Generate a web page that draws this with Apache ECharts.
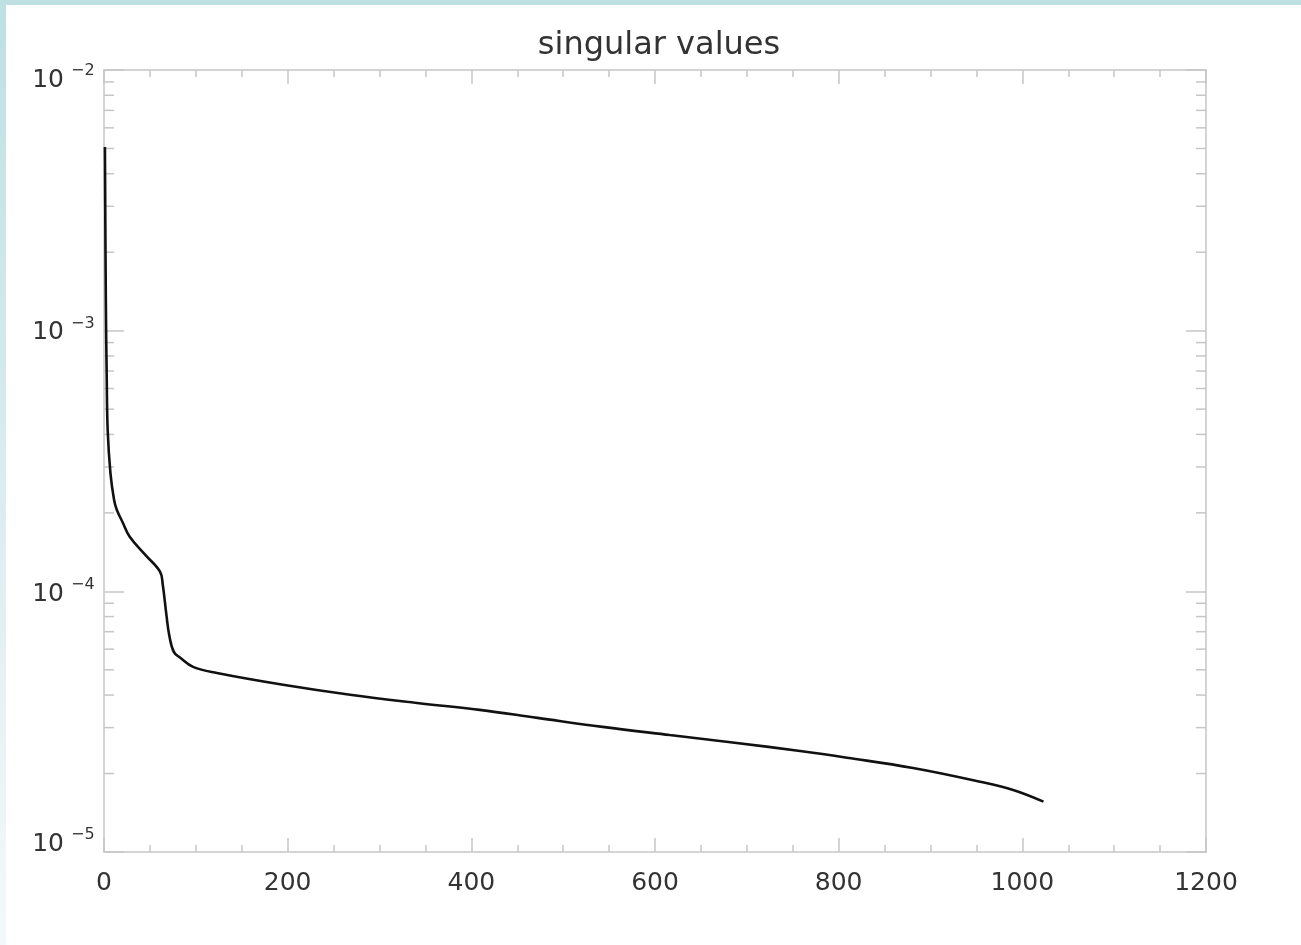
<!DOCTYPE html>
<html>
<head>
<meta charset="utf-8">
<script src="https://cdn.jsdelivr.net/npm/echarts@6/dist/echarts.min.js"></script>
<style>
  html, body { margin: 0; padding: 0; background: #ffffff; }
  #chart { width: 1301px; height: 945px; }
</style>
</head>
<body>
<div id="chart"></div>
<script>
// singular value index and value
const svIndex = [1, 2, 3, 4, 7, 11, 14, 20, 28, 45, 61, 64, 68, 71, 76, 83, 97, 123, 195, 268, 341, 409, 472, 543, 616, 689, 758, 809, 881, 954, 990, 1023]
const svValue = [5.07e-3, 1.31e-3, 6.47e-4, 4.16e-4, 2.84e-4, 2.24e-4, 2.05e-4, 1.85e-4, 1.62e-4, 1.38e-4, 1.19e-4, 1.06e-4, 8.1e-5, 6.8e-5, 5.86e-5, 5.56e-5, 5.13e-5, 4.86e-5, 4.38e-5, 4.01e-5, 3.73e-5, 3.51e-5, 3.27e-5, 3.02e-5, 2.81e-5, 2.62e-5, 2.44e-5, 2.30e-5, 2.10e-5, 1.86e-5, 1.73e-5, 1.56e-5]
const yMinorTicks = [2e-5, 3e-5, 4e-5, 5e-5, 6e-5, 7e-5, 8e-5, 9e-5,
                     2e-4, 3e-4, 4e-4, 5e-4, 6e-4, 7e-4, 8e-4, 9e-4,
                     2e-3, 3e-3, 4e-3, 5e-3, 6e-3, 7e-3, 8e-3, 9e-3]
const yLabelValues = [1e-5, 1e-4, 1e-3, 1e-2]
const yLabelExps = ["−5", "−4", "−3", "−2"]
const titleText = "singular values"

const axisGray = "#c6c6c6"
const textColor = "#333333"
const font = "DejaVu Sans"
// IDL nudges the end labels inwards
const yLabelShift = [-8, 3, 2, 10]

let chartDom = document.getElementById('chart')
let myChart = echarts.init(chartDom, null, {renderer: 'canvas'})

let lineData = svIndex.map((x, i) => [x, svValue[i]])

function xAxisBase(pos) {
    return {
        type: 'value', position: pos, min: 0, max: 1200, interval: 200,
        axisLine: {show: true, onZero: false, lineStyle: {color: axisGray, width: 1.5}},
        axisTick: {show: true, inside: true, length: 14, lineStyle: {color: axisGray, width: 1.5}},
        minorTick: {show: true, splitNumber: 4, length: 7, lineStyle: {color: axisGray, width: 1.5}},
        splitLine: {show: false},
        axisLabel: {
            show: pos === 'bottom', color: textColor, fontFamily: font, fontSize: 25, margin: 19,
            formatter: (v) => String(v)
        }
    }
}

function yAxisBase(pos) {
    return {
        type: 'log', logBase: 10, position: pos, min: 1e-5, max: 1e-2,
        axisLine: {show: true, onZero: false, lineStyle: {color: axisGray, width: 1.5}},
        axisTick: {show: true, inside: true, length: 20, lineStyle: {color: axisGray, width: 1.5}},
        minorTick: {show: false},
        splitLine: {show: false},
        axisLabel: {show: false}
    }
}

let option = {
    backgroundColor: '#ffffff',
    animation: false,
    title: {
        text: titleText, left: 654, top: 25, textAlign: 'center',
        textStyle: {fontFamily: font, fontSize: 32, fontWeight: 'normal', color: textColor}
    },
    graphic: [
        {type: 'rect', left: 0, top: 0, shape: {width: 1301, height: 5}, style: {fill: '#bde0e3'}, z: 100},
        {type: 'rect', left: 0, top: 0, shape: {width: 6, height: 945}, z: 100,
            style: {fill: new echarts.graphic.LinearGradient(0, 0, 0, 1, [
                {offset: 0, color: '#bde0e3'},
                {offset: 0.35, color: '#d2e8ea'},
                {offset: 0.7, color: '#e5f1f3'},
                {offset: 1, color: '#f3f9fa'}
            ])}}
    ],
    grid: {left: 104, top: 70, width: 1102, height: 782, containLabel: false},
    xAxis: [xAxisBase('bottom'), xAxisBase('top')],
    yAxis: [yAxisBase('left'), yAxisBase('right')],
    series: [
        {
            name: 'singular values', type: 'line', data: lineData,
            xAxisIndex: 0, yAxisIndex: 0,
            showSymbol: false, smooth: 0.4, clip: true,
            lineStyle: {color: '#111111', width: 2.6}, z: 5
        },
        {
            name: 'minor ticks', type: 'custom', xAxisIndex: 0, yAxisIndex: 0,
            data: yMinorTicks.map(v => [0, v]), clip: false, silent: true,
            renderItem: (params, api) => {
                let l = api.coord([0, api.value(1)])
                let r = api.coord([1200, api.value(1)])
                let st = {stroke: axisGray, lineWidth: 1.5}
                return {
                    type: 'group', children: [
                        {type: 'line', shape: {x1: l[0], y1: l[1], x2: l[0] + 10, y2: l[1]}, style: st},
                        {type: 'line', shape: {x1: r[0], y1: r[1], x2: r[0] - 10, y2: r[1]}, style: st}
                    ]
                }
            }
        },
        {
            name: 'y labels', type: 'custom', xAxisIndex: 0, yAxisIndex: 0,
            data: yLabelValues.map(v => [0, v]), clip: false, silent: true,
            renderItem: (params, api) => {
                let p = api.coord([0, api.value(1)])
                let y = p[1] + yLabelShift[params.dataIndex]
                return {
                    type: 'group', children: [
                        {type: 'text', x: p[0] - 40, y: y,
                            style: {text: '10', fontFamily: font, fontSize: 25, fill: textColor, align: 'right', verticalAlign: 'middle'}},
                        {type: 'text', x: p[0] - 33, y: y - 9,
                            style: {text: yLabelExps[params.dataIndex], fontFamily: font, fontSize: 16, fill: textColor, align: 'left', verticalAlign: 'middle'}}
                    ]
                }
            }
        }
    ]
}
myChart.setOption(option)
</script>
</body>
</html>
